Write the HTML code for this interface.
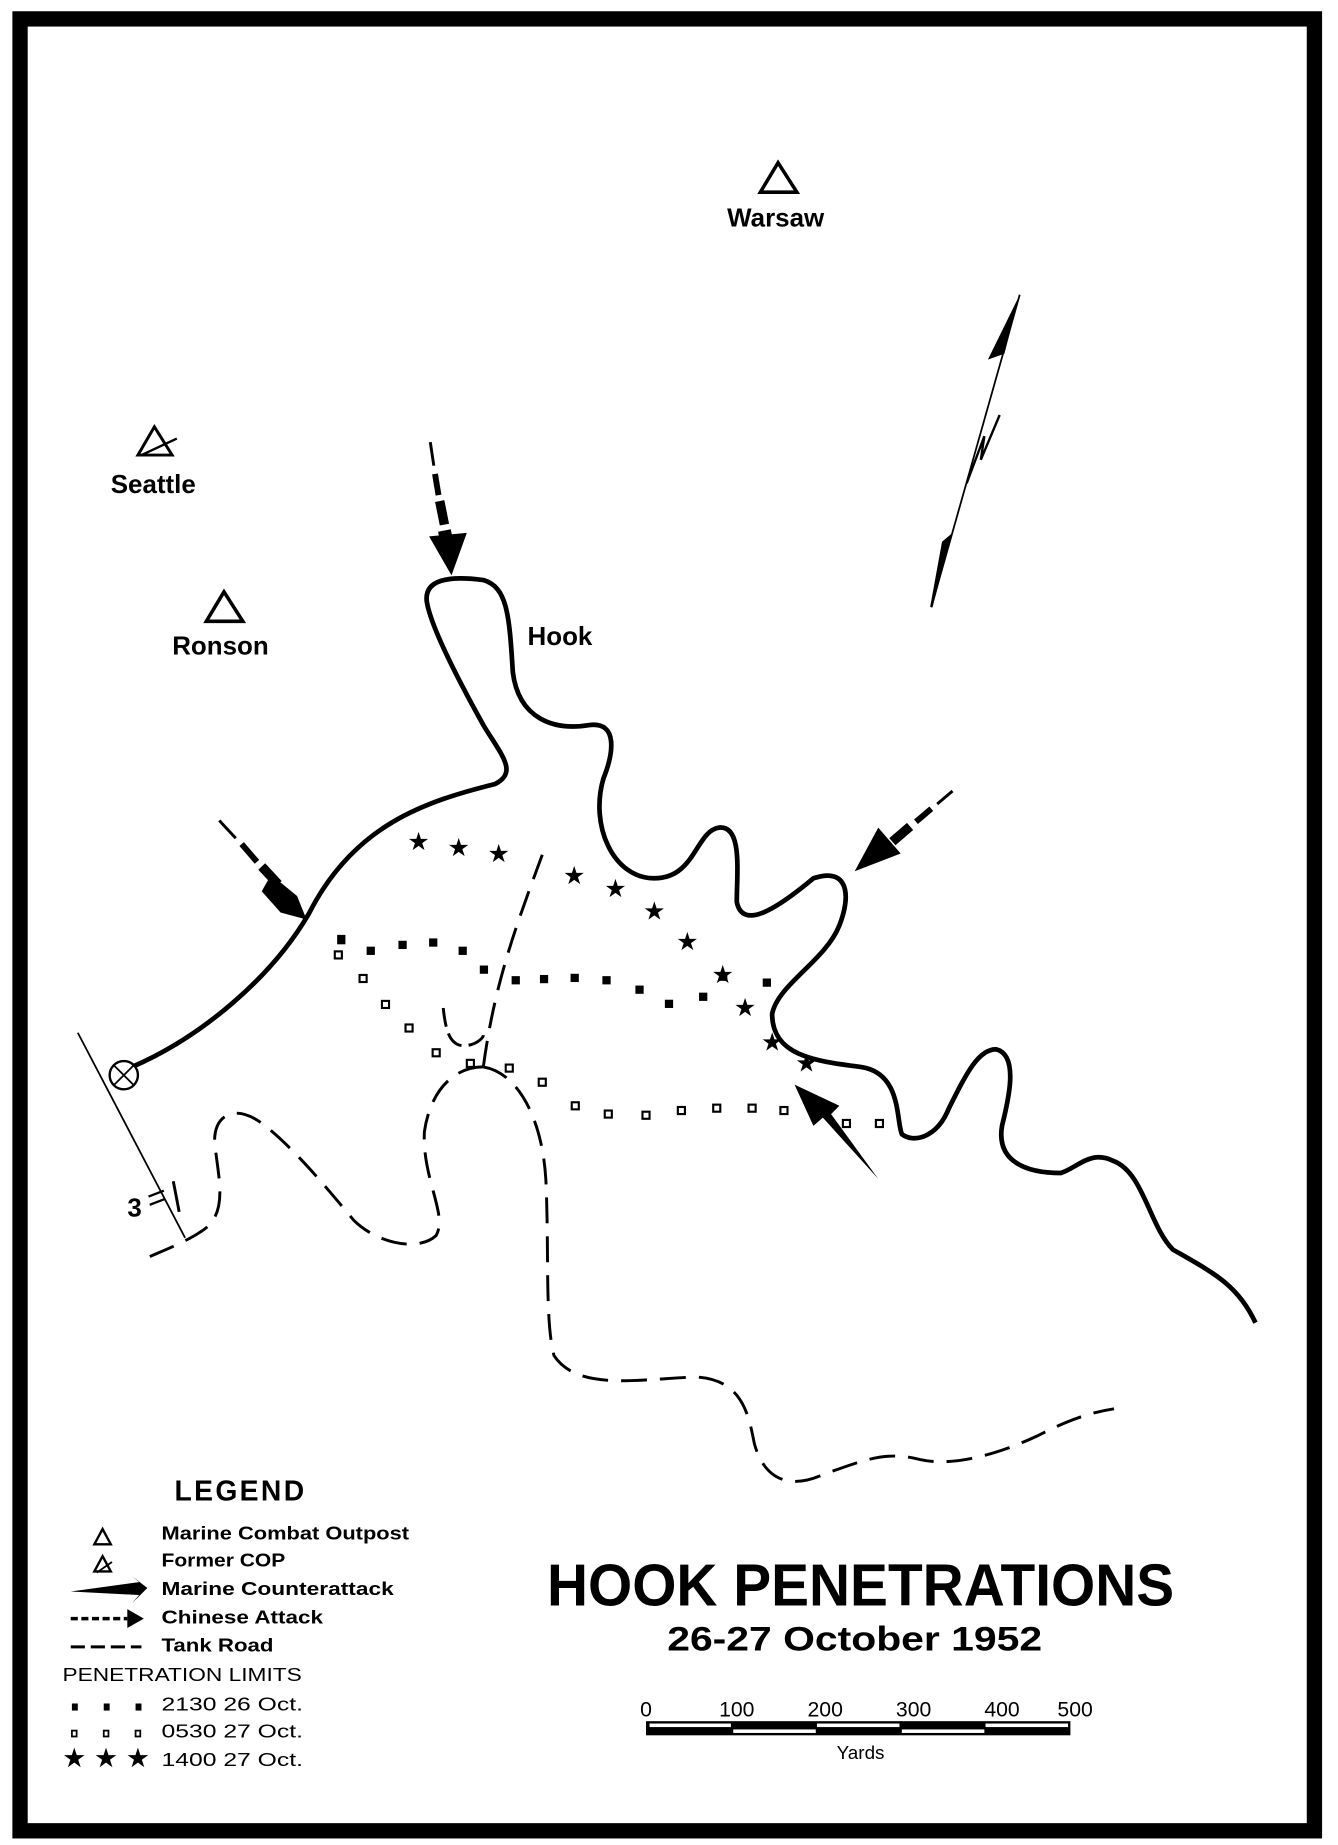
<!DOCTYPE html>
<html><head><meta charset="utf-8"><style>
html,body{margin:0;padding:0;background:#fff;}
svg{display:block;}
text{font-family:"Liberation Sans",sans-serif;fill:#000;}
</style></head><body>
<svg width="1338" height="1845" viewBox="0 0 1135 1565" xmlns="http://www.w3.org/2000/svg">
<rect x="0" y="0" width="1135" height="1565" fill="#fff"/>
<rect x="17" y="16" width="1098" height="1537" fill="none" stroke="#000" stroke-width="13"/>

<path d="M112,905 C170,880 230,830 262,775 C300,700 360,680 420,665 C440,655 425,640 410,615 C385,570 365,530 362,510 C360,492 380,488 410,492 C430,498 432,520 435,570 C440,610 470,620 500,615 C525,612 520,640 512,660 C500,700 520,745 555,745 C590,745 590,705 610,702 C630,700 625,740 625,765 C630,790 660,770 690,745 C720,735 722,760 712,785 C700,815 660,835 655,860 C655,895 690,900 730,905 C765,910 760,950 765,962 C775,970 795,965 805,940 C820,910 830,890 845,890 C865,895 855,935 850,955 C845,985 870,995 900,995 C915,990 925,975 945,985 C970,995 975,1040 995,1060 C1030,1080 1050,1090 1065,1122" fill="none" stroke="#000" stroke-width="4" stroke-linejoin="round"/>

<line x1="66" y1="876" x2="157" y2="1050" stroke="#000" stroke-width="1.5"/>
<circle cx="105" cy="912" r="12" fill="#fff" stroke="#000" stroke-width="2"/>
<line x1="97" y1="904" x2="113" y2="920" stroke="#000" stroke-width="1.5"/>
<line x1="113" y1="904" x2="97" y2="920" stroke="#000" stroke-width="1.5"/>
<text x="108" y="1032" font-size="22" font-weight="bold">3</text>
<line x1="126" y1="1015" x2="139" y2="1010" stroke="#000" stroke-width="2"/>
<line x1="127" y1="1022" x2="140" y2="1017" stroke="#000" stroke-width="2"/>
<line x1="147" y1="1002" x2="152" y2="1028" stroke="#000" stroke-width="2.5"/>

<g fill="none" stroke="#000" stroke-width="2.5" stroke-dasharray="22,11">
<path d="M460,725 C440,780 420,830 410,905"/>
<path d="M376,855 C378,875 382,888 395,887 C405,886 410,880 410,878" stroke-dasharray="16,6"/>
<path d="M410,905 C385,905 365,925 360,960 C358,1000 380,1030 370,1048 C355,1062 320,1055 300,1035 C275,1005 250,975 225,955 C200,935 182,945 182,968 C185,1000 195,1030 170,1045 C155,1055 135,1062 118,1070"/>
<path d="M410,905 C440,910 460,950 463,1000 C466,1060 462,1120 470,1150 C490,1180 540,1170 590,1168 C630,1170 635,1200 640,1225 C650,1260 675,1262 700,1250 C730,1240 750,1230 780,1238 C810,1245 850,1232 880,1218 C905,1205 925,1198 945,1195"/>
</g>

<g fill="#000">
<rect x="286" y="793" width="7" height="8"/><rect x="311" y="803" width="7" height="7"/><rect x="338" y="798" width="7" height="7"/><rect x="364" y="796" width="7" height="7"/><rect x="389" y="803" width="7" height="7"/><rect x="407" y="819" width="7" height="7"/><rect x="434" y="828" width="7" height="7"/><rect x="458" y="827" width="7" height="7"/><rect x="484" y="826" width="7" height="7"/><rect x="511" y="828" width="7" height="7"/><rect x="539" y="836" width="7" height="7"/><rect x="564" y="848" width="7" height="7"/><rect x="593" y="842" width="7" height="7"/><rect x="610" y="825" width="7" height="7"/><rect x="647" y="830" width="7" height="7"/>
</g>
<g fill="#fff" stroke="#000" stroke-width="1.8">
<rect x="284" y="807" width="6" height="6"/><rect x="305" y="827" width="6" height="6"/><rect x="324" y="849" width="6" height="6"/><rect x="344" y="869" width="6" height="6"/><rect x="367" y="890" width="6" height="6"/><rect x="396" y="899" width="6" height="6"/><rect x="429" y="903" width="6" height="6"/><rect x="457" y="915" width="6" height="6"/><rect x="485" y="935" width="6" height="6"/><rect x="513" y="942" width="6" height="6"/><rect x="545" y="943" width="6" height="6"/><rect x="575" y="939" width="6" height="6"/><rect x="605" y="937" width="6" height="6"/><rect x="635" y="937" width="6" height="6"/><rect x="662" y="939" width="6" height="6"/><rect x="715" y="950" width="6" height="6"/><rect x="743" y="950" width="6" height="6"/>
</g>
<g font-size="21" text-anchor="middle">
<text x="355" y="721">★</text><text x="389" y="726">★</text><text x="423" y="731">★</text><text x="487" y="750">★</text><text x="522" y="761">★</text><text x="555" y="780">★</text><text x="583" y="806">★</text><text x="613" y="834">★</text><text x="632" y="862">★</text><text x="655" y="891">★</text><text x="684" y="909">★</text>
</g>

<g stroke="#000" fill="none">
<path d="M365,375 L368,395" stroke-width="2.5"/>
<path d="M369,402 L372,420" stroke-width="5"/>
<path d="M373,425 L377,445" stroke-width="8"/>
<path d="M377,450 L379,460" stroke-width="11"/>
<path d="M186,696 L200,711" stroke-width="2.5"/>
<path d="M205,716 L218,731" stroke-width="5"/>
<path d="M222,735 L236,750" stroke-width="8"/>
<path d="M808,671 L795,682" stroke-width="2.5"/>
<path d="M790,686 L777,697" stroke-width="5"/>
<path d="M772,701 L757,714" stroke-width="8"/>
</g>
<polygon points="364,455 396,452 383,488" fill="#000"/>
<polygon points="230,742 252,760 260,780 238,774 222,756" fill="#000"/>
<polygon points="745,702 764,724 725,739" fill="#000"/>
<polygon points="745,1000 705,945 712,938 674,920 690,955 698,948" fill="#000"/>

<line x1="865" y1="250" x2="790" y2="515" stroke="#000" stroke-width="1.5"/>
<polygon points="865,250 838,305 852,300" fill="#000"/>
<polygon points="806,455 790,515 800,460" fill="#000" stroke="#000" stroke-width="2"/>
<path d="M820,410 L835,370 L832,390 L848,352" fill="none" stroke="#000" stroke-width="2"/>

<polygon points="660,138 645,163 676,163" fill="none" stroke="#000" stroke-width="3"/>
<text x="658" y="192" font-size="22" font-weight="bold" text-anchor="middle">Warsaw</text>
<polygon points="131,362 117,386 146,386" fill="none" stroke="#000" stroke-width="2.5"/>
<line x1="120" y1="386" x2="150" y2="372" stroke="#000" stroke-width="2"/>
<text x="130" y="418" font-size="22" font-weight="bold" text-anchor="middle">Seattle</text>
<polygon points="190,502 175,527 206,527" fill="none" stroke="#000" stroke-width="3"/>
<text x="187" y="555" font-size="22" font-weight="bold" text-anchor="middle">Ronson</text>
<text x="475" y="547" font-size="22" font-weight="bold" text-anchor="middle">Hook</text>

<text x="203" y="1273" font-size="24" font-weight="bold" text-anchor="middle" textLength="110">LEGEND</text>
<g font-size="16" font-weight="bold">
<polygon points="87,1297 80,1310 94,1310" fill="none" stroke="#000" stroke-width="2"/>
<polygon points="87,1320 80,1333 94,1333" fill="none" stroke="#000" stroke-width="2"/>
<line x1="82" y1="1334" x2="95" y2="1325" stroke="#000" stroke-width="1.5"/>
<polygon points="60,1350 118,1342 112,1337 125,1347 112,1360 118,1353" fill="#000"/>
<line x1="60" y1="1373" x2="108" y2="1373" stroke="#000" stroke-width="3" stroke-dasharray="6,3"/>
<polygon points="108,1365 122,1373 108,1381" fill="#000"/>
<line x1="60" y1="1397" x2="120" y2="1397" stroke="#000" stroke-width="2.5" stroke-dasharray="12,5"/>
<text x="137" y="1306" textLength="210" lengthAdjust="spacingAndGlyphs">Marine Combat Outpost</text>
<text x="137" y="1329" textLength="105" lengthAdjust="spacingAndGlyphs">Former COP</text>
<text x="137" y="1353" textLength="197" lengthAdjust="spacingAndGlyphs">Marine Counterattack</text>
<text x="137" y="1377" textLength="137" lengthAdjust="spacingAndGlyphs">Chinese Attack</text>
<text x="137" y="1401" textLength="95" lengthAdjust="spacingAndGlyphs">Tank Road</text>
<text x="53" y="1426" font-weight="normal" textLength="203" lengthAdjust="spacingAndGlyphs">PENETRATION LIMITS</text>
<rect x="61" y="1445" width="5" height="6" fill="#000"/><rect x="88" y="1445" width="5" height="6" fill="#000"/><rect x="115" y="1445" width="5" height="6" fill="#000"/>
<rect x="61" y="1468" width="4" height="5" fill="none" stroke="#000" stroke-width="1.5"/><rect x="88" y="1468" width="4" height="5" fill="none" stroke="#000" stroke-width="1.5"/><rect x="115" y="1468" width="4" height="5" fill="none" stroke="#000" stroke-width="1.5"/>
<text x="63" y="1498" font-size="20" text-anchor="middle">★</text><text x="90" y="1498" font-size="20" text-anchor="middle">★</text><text x="117" y="1498" font-size="20" text-anchor="middle">★</text>
<text x="137" y="1451" font-weight="normal" textLength="120" lengthAdjust="spacingAndGlyphs">2130 26 Oct.</text>
<text x="137" y="1474" font-weight="normal" textLength="120" lengthAdjust="spacingAndGlyphs">0530 27 Oct.</text>
<text x="137" y="1498" font-weight="normal" textLength="120" lengthAdjust="spacingAndGlyphs">1400 27 Oct.</text>
</g>

<text x="464" y="1362" font-size="50" font-weight="bold" textLength="532" lengthAdjust="spacingAndGlyphs">HOOK PENETRATIONS</text>
<text x="566" y="1400" font-size="29" font-weight="bold" textLength="318" lengthAdjust="spacingAndGlyphs">26-27 October 1952</text>

<g font-size="18" text-anchor="middle">
<text x="548" y="1456">0</text><text x="625" y="1456">100</text><text x="700" y="1456">200</text><text x="775" y="1456">300</text><text x="850" y="1456">400</text><text x="912" y="1456">500</text>
</g>
<rect x="548" y="1460" width="360" height="12" fill="#000"/>
<rect x="551" y="1462" width="69" height="3" fill="#fff"/>
<rect x="693" y="1462" width="70" height="3" fill="#fff"/>
<rect x="836" y="1462" width="70" height="3" fill="#fff"/>
<rect x="622" y="1467" width="70" height="3" fill="#fff"/>
<rect x="765" y="1467" width="70" height="3" fill="#fff"/>
<text x="730" y="1492" font-size="16" text-anchor="middle">Yards</text>
</svg>
</body></html>
